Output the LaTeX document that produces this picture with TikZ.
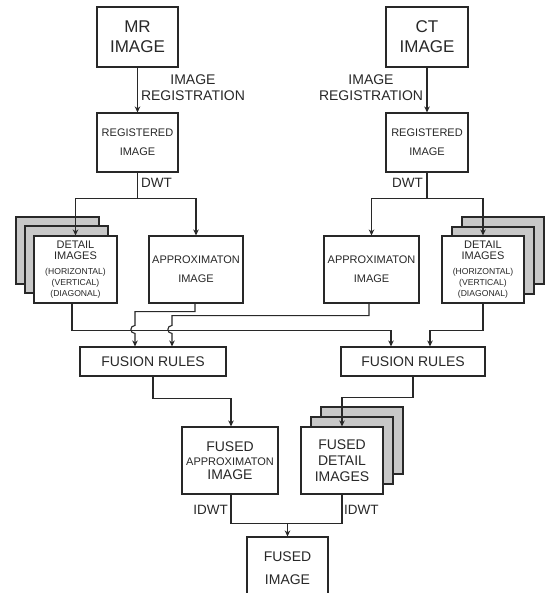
\documentclass[tikz,border=0pt]{standalone}
\usepackage{fontspec}
\setmainfont{Liberation Sans}
\usetikzlibrary{arrows.meta,calc}
\definecolor{ink}{RGB}{40,40,40}
\definecolor{shade}{RGB}{200,200,200}
\tikzset{
  x=1pt,y=-1pt,
  box/.style={draw=ink,line width=1.1pt,fill=white,rectangle,inner sep=1pt,align=center,text=ink,font=\fontsize{11}{19}\selectfont},
  backbox/.style={draw=ink,line width=1.1pt,fill=shade},
  conn/.style={draw=ink,line width=1.1pt},
  arr/.style={conn,-{Stealth[length=6pt,width=5.5pt]}},
  lbl/.style={text=ink,inner sep=0pt,align=center}
}
\begin{document}
\begin{tikzpicture}
\clip (0,0) rectangle (545,593);
\fill[white] (0,0) rectangle (545,593);
% top boxes
\node[box,minimum width=81,minimum height=60,font=\fontsize{17}{20}\selectfont] (mr) at (137.5,37) {MR\\IMAGE};
\node[box,minimum width=81,minimum height=59] (mrreg) at (137.5,142.5) {REGISTERED\\IMAGE};
\node[box,minimum width=82,minimum height=60,font=\fontsize{17}{20}\selectfont] (ct) at (427,37) {CT\\IMAGE};
\node[box,minimum width=82,minimum height=59] (ctreg) at (427,142.5) {REGISTERED\\IMAGE};
\draw[arr] (mr.south) -- (mrreg.north);
\draw[arr] (ct.south) -- (ctreg.north);
\node[lbl,font=\fontsize{14}{16}\selectfont] (lreg) at (193,88) {IMAGE\\REGISTRATION};
\node[lbl,font=\fontsize{14}{16}\selectfont] (rreg) at (371,88) {IMAGE\\REGISTRATION};
\node[lbl,anchor=west,font=\fontsize{13.5}{16}\selectfont] (ldwt) at (141,183) {DWT};
\node[lbl,anchor=east,font=\fontsize{13.5}{16}\selectfont] (rdwt) at (423,183) {DWT};
% left detail stack
\draw[backbox] (16,217) rectangle (99,284);
\draw[backbox] (25,226) rectangle (108,293);
\node[box,minimum width=83,minimum height=67] (ldet) at (75.5,269.5) {DETAIL\\[-8pt]IMAGES\\[-4pt]{\fontsize{8.6}{11}\selectfont (HORIZONTAL)}\\[-8pt]{\fontsize{8.6}{11}\selectfont (VERTICAL)}\\[-8pt]{\fontsize{8.6}{11}\selectfont (DIAGONAL)}};
\node[box,minimum width=94,minimum height=67,inner sep=0pt] (lapp) at (196,269.5) {APPROXIMATON\\IMAGE};
\node[box,minimum width=95,minimum height=67,inner sep=0pt] (rapp) at (371.5,269.5) {APPROXIMATON\\IMAGE};
% right detail stack
\draw[backbox] (462,217) rectangle (544,284);
\draw[backbox] (452,227) rectangle (534,294);
\node[box,minimum width=82,minimum height=67] (rdet) at (483,269.5) {DETAIL\\[-8pt]IMAGES\\[-4pt]{\fontsize{8.6}{11}\selectfont (HORIZONTAL)}\\[-8pt]{\fontsize{8.6}{11}\selectfont (VERTICAL)}\\[-8pt]{\fontsize{8.6}{11}\selectfont (DIAGONAL)}};
% DWT splits
\coordinate (lsplit) at ($(mrreg.south)+(0,26)$);
\coordinate (rsplit) at ($(ctreg.south)+(0,26)$);
\draw[conn] (mrreg.south) -- (lsplit);
\draw[conn] (ctreg.south) -- (rsplit);
\draw[arr] (lsplit) -| (ldet.north);
\draw[arr] (lsplit) -| (lapp.north);
\draw[arr] (rsplit) -| (rapp.north);
\draw[arr] (rsplit) -| (rdet.north);
% fusion rules
\node[box,minimum width=146,minimum height=29,font=\fontsize{14}{16}\selectfont] (lfus) at (153,361.5) {FUSION RULES};
\node[box,minimum width=144,minimum height=29,font=\fontsize{14}{16}\selectfont] (rfus) at (413,361.5) {FUSION RULES};
% crossings
\draw[arr] ([xshift=-3.5pt]ldet.south) -- ++(0,27) -| ([xshift=-22pt]rfus.north);
\draw[arr] (rdet.south) -- ++(0,27) -| ([xshift=17pt]rfus.north);
\draw[arr] ([xshift=-1pt]lapp.south) -- ++(0,8) -| ($(lfus.north)+(-18,-21)$)
  .. controls ++(-5.5,0) and ++(-5.5,0) .. ++(0,8) -- ([xshift=-18pt]lfus.north);
\draw[arr] ([xshift=-2.5pt]rapp.south) -- ++(0,12) -| ($(lfus.north)+(19,-21)$)
  .. controls ++(-5.5,0) and ++(-5.5,0) .. ++(0,8) -- ([xshift=19pt]lfus.north);
% fused boxes
\node[box,minimum width=96,minimum height=67,inner sep=0pt,font=\fontsize{14}{16}\selectfont] (fapp) at (230,460.5) {FUSED\\[-2pt]{\fontsize{11}{13}\selectfont APPROXIMATON}\\[-2pt]IMAGE};
\draw[backbox] (321,407) rectangle (403,474);
\draw[backbox] (311,417) rectangle (393,484);
\node[box,minimum width=82,minimum height=67,font=\fontsize{14}{16}\selectfont] (fdet) at (342,460.5) {FUSED\\DETAIL\\IMAGES};
\draw[arr] (lfus.south) -- ++(0,22) -| ([xshift=1pt]fapp.north);
\draw[arr] (rfus.south) -- ++(0,21) -| (fdet.north);
% final
\node[box,minimum width=81,minimum height=63,font=\fontsize{14}{23}\selectfont] (ffin) at (287.5,568.5) {FUSED\\IMAGE};
\coordinate (mid) at ($(fapp.south)+(1,29)$);
\draw[conn] ([xshift=1pt]fapp.south) -- (mid) -| (fdet.south);
\draw[arr] (mid -| ffin.north) -- (ffin.north);
\node[lbl,anchor=east,font=\fontsize{13.5}{16}\selectfont] (lidwt) at (228,510) {IDWT};
\node[lbl,anchor=west,font=\fontsize{13.5}{16}\selectfont] (ridwt) at (344,510) {IDWT};
\end{tikzpicture}
\end{document}
